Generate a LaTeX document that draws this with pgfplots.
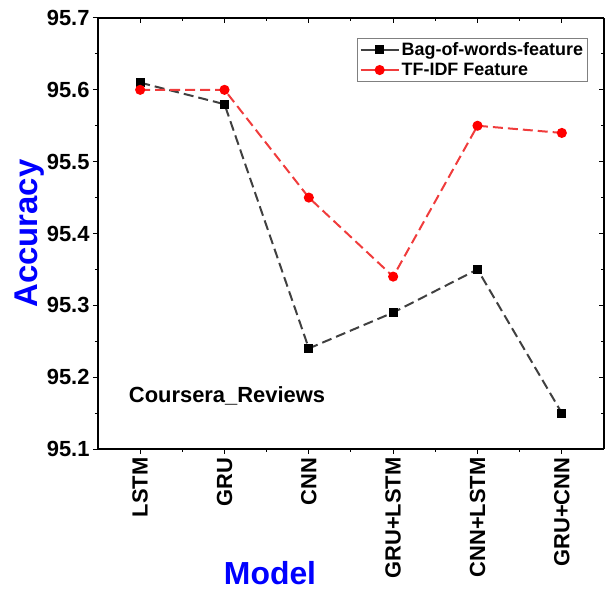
\documentclass[border=0pt]{standalone}
\usepackage{pgfplots}
\pgfplotsset{compat=1.18}
\usepackage{fontspec}
\setmainfont{Liberation Sans}
\definecolor{dgray}{RGB}{64,64,64}
\definecolor{lred}{RGB}{240,60,60}
\pgfplotsset{
  common/.style={
    at={(0,0)}, anchor=south west,
    scale only axis, width=506bp, height=431bp,
    xmin=-0.5, xmax=5.5, ymin=95.1, ymax=95.7,
    xtick={0,1,2,3,4,5},
    ytick={95.1,95.2,95.3,95.4,95.5,95.6,95.7},
    minor x tick num=1, minor y tick num=1,
    major tick length=5bp, minor tick length=3bp,
    axis line style={line width=1.2bp},
    every tick/.style={black, line width=1bp},
  }
}
\begin{document}
\begin{tikzpicture}
\path[use as bounding box] (-98bp,-145bp) rectangle (510bp,449bp);
\begin{axis}[common,
  axis x line*=top, axis y line*=right, tick align=inside,
  xticklabels={}, yticklabels={},
]
\end{axis}
\begin{axis}[common,
  axis x line*=bottom, axis y line*=left, tick align=outside,
  xticklabels={LSTM,GRU,CNN,GRU+LSTM,CNN+LSTM,GRU+CNN},
  /pgf/number format/assume math mode=true,
  yticklabel style={/pgf/number format/fixed, /pgf/number format/fixed zerofill, /pgf/number format/precision=1, font=\fontsize{22}{22}\selectfont\bfseries},
  xticklabel style={rotate=90, anchor=east, font=\fontsize{22}{22}\selectfont\bfseries},
  ylabel={Accuracy},
  ylabel style={at={(axis description cs:-0.136,0.50)}, anchor=center, font=\fontsize{33}{33}\selectfont\bfseries, text=blue},
  xlabel={Model},
  xlabel style={at={(axis description cs:0.34,-0.287)}, anchor=center, font=\fontsize{32}{32}\selectfont\bfseries, text=blue},
  legend style={at={(axis description cs:0.968,0.954)}, anchor=north east, font=\fontsize{18}{19}\selectfont\bfseries, draw=gray, line width=0.6bp, inner sep=2.5bp, row sep=2bp,
    nodes={inner sep=2bp}},
  legend cell align=left,
  legend image code/.code={\draw[mark repeat=2,mark phase=2,solid] plot coordinates {(0bp,0bp)(19bp,0bp)(38bp,0bp)};},
  clip=false,
]
\addplot[dgray, dash pattern=on 10bp off 5bp, line width=2bp, mark=square*, mark size=3.5bp, mark options={solid, fill=black, draw=black}]
  coordinates {(0,95.61) (1,95.58) (2,95.24) (3,95.29) (4,95.35) (5,95.15)};
\addlegendentry{Bag-of-words-feature}
\addplot[lred, dash pattern=on 10bp off 5bp, line width=2bp, mark=*, mark size=4bp, mark options={solid, fill=red, draw=red}]
  coordinates {(0,95.60) (1,95.60) (2,95.45) (3,95.34) (4,95.55) (5,95.54)};
\addlegendentry{TF-IDF Feature}
\node[font=\fontsize{22}{22}\selectfont\bfseries] at (axis description cs:0.255,0.123) {Coursera\_Reviews};
\end{axis}
\end{tikzpicture}
\end{document}
